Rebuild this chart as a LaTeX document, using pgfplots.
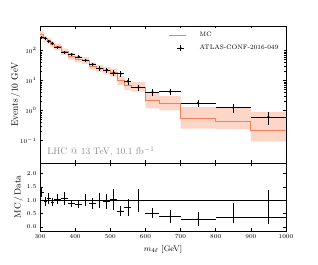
\documentclass[border=0pt]{standalone}
\usepackage{pgfplots}
\pgfplotsset{compat=1.18}
\usepackage{pgfplotstable}
\definecolor{mcline}{RGB}{242,128,88}
\definecolor{mcband}{RGB}{253,214,200}
\definecolor{lhcgray}{RGB}{140,140,140}

\pgfplotstableread{
xlo mc
300 352
310 245
320 214
330 164
340 134
360 91
380 65
400 52
420 47
440 30.4
460 25
480 21.5
500 18.5
520 10.1
540 6.9
560 5.9
600 2.1
640 1.7
700 0.53
800 0.44
900 0.21
1000 0.21
}\mctable

\pgfplotstableread{
x ex y ey
305 5 269 27
315 5 255 26
325 5 202 22
335 5 174 19
350 10 128 13
370 10 85 9
390 10 74 8
410 10 61 7
430 10 47 6
450 10 34.6 5
470 10 25 4.5
490 10 22.4 4.5
510 10 17.8 4
530 10 16.9 3.8
550 10 9.4 2.5
580 20 5.9 1.4
620 20 4.1 1.0
670 30 4.3 1.0
750 50 1.78 0.45
850 50 1.25 0.4
950 50 0.61 0.28
}\datatable

\pgfplotstableread{
x ex r ep em
305 5 1.31 0.20 0.20
315 5 0.96 0.16 0.16
325 5 1.06 0.20 0.20
335 5 0.94 0.14 0.14
350 10 1.05 0.19 0.19
370 10 1.07 0.24 0.24
390 10 0.88 0.14 0.14
410 10 0.85 0.15 0.15
430 10 1.00 0.22 0.22
450 10 0.88 0.21 0.21
470 10 1.00 0.27 0.27
490 10 0.96 0.27 0.27
510 10 1.04 0.40 0.40
530 10 0.60 0.17 0.17
550 10 0.73 0.31 0.31
580 20 1.00 0.44 0.44
620 20 0.52 0.20 0.20
670 30 0.40 0.24 0.24
750 50 0.30 0.28 0.28
850 50 0.35 0.55 0.20
950 50 0.35 1.05 0.22
}\ratiotable

\pgfplotsset{
  every axis/.append style={
    tick label style={font=\fontsize{6}{7}\selectfont},
    major tick length=3bp,
    minor tick length=1.6bp,
    axis line style={line width=0.7pt},
    every tick/.append style={line width=0.5pt, black},
    /pgf/number format/1000 sep={},
  },
}

\begin{document}
\begin{tikzpicture}
\path[use as bounding box] (0,0) rectangle (318bp,265bp);
\begin{axis}[
  name=top,
  at={(40bp,102bp)}, anchor=south west,
  scale only axis, width=246bp, height=137bp,
  xmin=300, xmax=1000, ymode=log, ymin=0.018, ymax=650,
  xtick={300,400,...,1000}, xticklabels={},
  ytick={0.1,1,10,100},
  ylabel={Events\,/10 GeV},
  y label style={at={(axis description cs:-0.10,0.5)}, anchor=center, font=\fontsize{9.5}{11}\selectfont},
  legend cell align=left,
  legend style={draw=white, fill=white, at={(0.99,0.985)}, anchor=north east,
    font=\fontsize{6.5}{7.5}\selectfont, row sep=3pt},
]
\addplot[fill=mcband, draw=none, forget plot] coordinates {
(300,440)(310,440)(310,306)(320,306)(320,268)(330,268)(330,205)(340,205)(340,168)(360,168)(360,114)(380,114)(380,82)(400,82)(400,66)(420,66)(420,60)(440,60)(440,39)(460,39)(460,32.5)(480,32.5)(480,28)(500,28)(500,25)(520,25)(520,14)(540,14)(540,9.8)(560,9.8)(560,8.9)(600,8.9)(600,4.3)(640,4.3)(640,3.0)(700,3.0)(700,1.31)(800,1.31)(800,1.25)(900,1.25)(900,0.91)(1000,0.91)
(1000,0.095)(900,0.095)(900,0.24)(800,0.24)(800,0.25)(700,0.25)(700,1.02)(640,1.02)(640,1.18)(600,1.18)(600,4.3)(560,4.3)(560,4.8)(540,4.8)(540,7.2)(520,7.2)(520,13.5)(500,13.5)(500,16)(480,16)(480,19)(460,19)(460,23)(440,23)(440,36)(420,36)(420,40)(400,40)(400,50)(380,50)(380,71)(360,71)(360,105)(340,105)(340,128)(330,128)(330,168)(320,168)(320,192)(310,192)(310,270)(300,270)
} -- cycle;
\addplot[const plot, mcline, line width=0.9pt, forget plot] table[x=xlo, y=mc]{\mctable};
\addlegendimage{mcline, line width=1.2pt,
  legend image code/.code={\draw[color=mcline, line width=1.2pt] (0cm,0cm) -- (0.6cm,0cm); \path (1.0cm,0cm);}}
\addlegendentry{MC}
\addplot[only marks, black, mark=*, mark size=1pt,
  legend image code/.code={\draw[black, line width=0.7pt] (0.42cm,-0.1cm) -- (0.42cm,0.1cm); \draw[black, line width=0.7pt] (0.3cm,0cm) -- (0.54cm,0cm); \fill[black] (0.42cm,0cm) circle (1pt); \path (0cm,0cm) (1.0cm,0cm);},
  error bars/.cd, x dir=both, x explicit, y dir=both, y explicit,
  error mark=none, error bar style={line width=0.7pt, black}]
  table[x=x, y=y, x error=ex, y error=ey]{\datatable};
\addlegendentry{ATLAS-CONF-2016-049}
\node[anchor=west, text=lhcgray, font=\fontsize{9.5}{11}\selectfont, inner sep=1pt] at (rel axis cs:0.025,0.083) {LHC @ 13 TeV, 10.1 fb$^{-1}$};
\end{axis}
\begin{axis}[
  at={(40bp,102bp)}, anchor=north west,
  scale only axis, width=246bp, height=68bp,
  xmin=300, xmax=1000, ymin=-0.15, ymax=2.4,
  xtick={300,400,...,1000}, scaled x ticks=false,
  ytick={0,0.5,1,1.5,2},
  yticklabel style={/pgf/number format/.cd, fixed, fixed zerofill, precision=1},
  ylabel={MC\,/\,Data},
  y label style={at={(axis description cs:-0.088,0.5)}, anchor=center, font=\fontsize{9}{10}\selectfont},
  xlabel={$m_{4\ell}$ [GeV]},
  x label style={at={(axis description cs:0.5,-0.16)}, anchor=north, font=\fontsize{8}{9}\selectfont},
]
\addplot[black, line width=0.7pt, forget plot] coordinates {(300,1) (1000,1)};
\addplot[only marks, black, mark=*, mark size=0.4pt,
  error bars/.cd, x dir=both, x explicit, y dir=both, y explicit,
  error mark=none, error bar style={line width=0.7pt, black}]
  table[x=x, y=r, x error=ex, y error plus=ep, y error minus=em]{\ratiotable};
\end{axis}
\end{tikzpicture}
\end{document}
